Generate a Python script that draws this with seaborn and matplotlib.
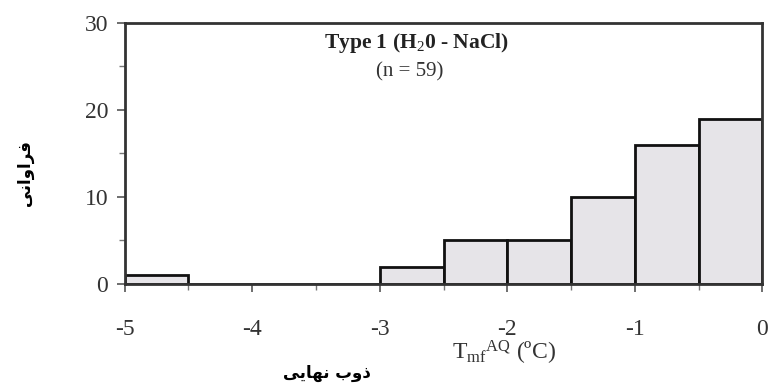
import numpy as np
import pandas as pd
import matplotlib
matplotlib.use("Agg")
import matplotlib.pyplot as plt
import seaborn as sns

# -------------------------------
# Data
# -------------------------------
bin_edges = [-5, -4.5, -4, -3.5, -3, -2.5, -2, -1.5, -1, -0.5, 0]
bin_centers = [-4.75, -4.25, -3.75, -3.25, -2.75, -2.25, -1.75, -1.25, -0.75, -0.25]
counts = [1, 0, 0, 0, 2, 5, 5, 10, 16, 19]

x_ticks = [-5, -4, -3, -2, -1, 0]
y_ticks = [0, 10, 20, 30]

title_text = "Type 1 (H$_2$0 - NaCl)"
n_text = "(n = 59)"
x_label = r"T$_{mf}$$^{AQ}$ (ºC)"
# Persian labels, written as shaped presentation forms in visual order
y_label_fa = "\ufef0\ufee7\ufe8d\ufeed\ufe8d\ufeae\ufed3"      # فراوانی
x_label_fa = "\ufef0\ufef3\ufe8e\ufeec\ufee7 \ufe8f\ufeed\ufeab"  # ذوب نهایی

df = pd.DataFrame({"temp": bin_centers, "count": counts})

# -------------------------------
# Plot
# -------------------------------
sns.set_style("ticks")
plt.rcParams["font.family"] = ["Liberation Serif", "DejaVu Sans"]
plt.rcParams["mathtext.fontset"] = "custom"
plt.rcParams["mathtext.rm"] = "Liberation Serif"
plt.rcParams["mathtext.it"] = "Liberation Serif"
plt.rcParams["mathtext.bf"] = "Liberation Serif:bold"

fig = plt.figure(figsize=(7.7, 3.89), dpi=100)
ax = fig.add_axes([0.162, 0.27, 0.828, 0.671])

sns.histplot(
    data=df, x="temp", weights="count", bins=bin_edges,
    color="#e6e4e8", edgecolor="#111111", linewidth=2.0, alpha=1.0, ax=ax
)

ax.set_xlim(-5, 0)
ax.set_ylim(0, 30)
ax.set_xticks(x_ticks)
ax.set_xticklabels([str(t) for t in x_ticks])
ax.set_xticks(np.arange(-5, 0.01, 0.5), minor=True)
ax.set_yticks(y_ticks)
ax.set_yticks([5, 15, 25], minor=True)
ax.tick_params(axis="both", which="major", labelsize=17, labelcolor="#333333",
               direction="out", length=6, width=1.2, color="#555555", pad=6)
ax.tick_params(axis="both", which="minor", direction="out", length=4,
               width=1.0, color="#777777")
ax.tick_params(axis="x", pad=19)

for side in ["top", "right", "left", "bottom"]:
    ax.spines[side].set_visible(True)
    ax.spines[side].set_linewidth(2.0)
    ax.spines[side].set_color("#333333")

ax.set_xlabel("")
ax.set_ylabel("")

ax.text(0.458, 0.923, title_text, transform=ax.transAxes, ha="center",
        va="center", fontsize=15.5, fontweight="bold", color="#222222")
ax.text(0.447, 0.812, n_text, transform=ax.transAxes, ha="center",
        va="center", fontsize=15, color="#333333")

fig.text(0.655, 0.093, x_label, ha="center", va="center", fontsize=17,
         color="#333333")
fig.text(0.425, 0.04, x_label_fa, ha="center", va="center", fontsize=12,
         fontweight="bold", family="DejaVu Sans", color="black")
fig.text(0.032, 0.555, y_label_fa, ha="center", va="center", fontsize=12,
         fontweight="bold", family="DejaVu Sans", rotation=90, color="black")

fig.savefig("out.png", dpi=100)
